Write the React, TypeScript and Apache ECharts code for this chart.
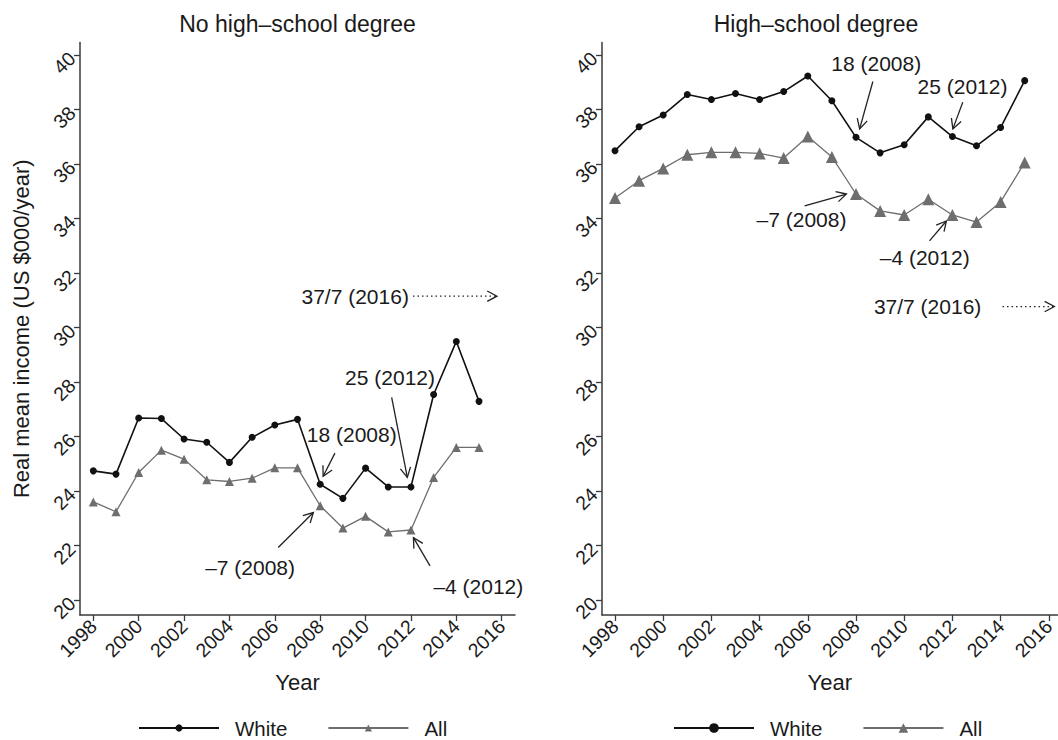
import React, { useEffect, useRef } from "react";
import * as echarts from "echarts";

const years = [1998, 1999, 2000, 2001, 2002, 2003, 2004, 2005, 2006, 2007, 2008, 2009, 2010, 2011, 2012, 2013, 2014, 2015];
const noHsWhite = [24.74, 24.62, 26.68, 26.66, 25.91, 25.79, 25.05, 25.97, 26.42, 26.63, 24.25, 23.73, 24.84, 24.15, 24.15, 27.54, 29.49, 27.29];
const noHsAll = [23.6, 23.24, 24.68, 25.5, 25.17, 24.41, 24.35, 24.47, 24.85, 24.85, 23.46, 22.64, 23.07, 22.5, 22.57, 24.5, 25.6, 25.6];
const hsWhite = [36.49, 37.37, 37.8, 38.55, 38.37, 38.59, 38.37, 38.66, 39.23, 38.32, 36.98, 36.41, 36.71, 37.73, 37.01, 36.67, 37.34, 39.06];
const hsAll = [34.75, 35.39, 35.84, 36.34, 36.43, 36.43, 36.39, 36.22, 37.01, 36.26, 34.9, 34.28, 34.13, 34.71, 34.13, 33.87, 34.61, 36.06];
const xTicks = [1998, 2000, 2002, 2004, 2006, 2008, 2010, 2012, 2014, 2016];
const yTicks = [20, 22, 24, 26, 28, 30, 32, 34, 36, 38, 40];
const panelTitles = ["No high–school degree", "High–school degree"];
const seriesNames = ["White", "All"];

type Note = { text: string; at: number[]; align: string; from: number[]; to: number[]; dotted?: boolean };

const noHsNotes: Note[] = [
  { text: "37/7 (2016)", at: [2011.91, 31.15], align: "right", from: [2012.09, 31.15], to: [2015.79, 31.15], dotted: true },
  { text: "25 (2012)", at: [2011.08, 28.18], align: "center", from: [2011.15, 27.44], to: [2011.84, 24.5] },
  { text: "18 (2008)", at: [2009.39, 26.09], align: "center", from: [2008.65, 25.39], to: [2008.13, 24.54] },
  { text: "–7 (2008)", at: [2004.91, 21.19], align: "center", from: [2006.15, 21.93], to: [2007.7, 23.21] },
  { text: "–4 (2012)", at: [2014.97, 20.51], align: "center", from: [2012.84, 21.25], to: [2012.11, 22.29] },
];
const hsNotes: Note[] = [
  { text: "18 (2008)", at: [2008.84, 39.68], align: "center", from: [2008.7, 39.03], to: [2008.15, 37.29] },
  { text: "25 (2012)", at: [2012.42, 38.85], align: "center", from: [2012.43, 38.27], to: [2012.02, 37.29] },
  { text: "–7 (2008)", at: [2005.74, 33.97], align: "center", from: [2005.87, 34.46], to: [2007.6, 34.9] },
  { text: "–4 (2012)", at: [2010.85, 32.56], align: "center", from: [2011.05, 33.18], to: [2011.75, 33.91] },
  { text: "37/7 (2016)", at: [2013.2, 30.77], align: "right", from: [2014.08, 30.77], to: [2016.23, 30.77], dotted: true },
];

const FONT = "'Liberation Sans', Arial, Helvetica, sans-serif";
const TXT = "#1a1a1a";
const AX = "#3a3a3a";
const WHITE_C = "#111111";
const ALL_C = "#6e6e6e";

function makeAxisX(gridIndex: number, min: number, max: number) {
  return {
    type: "value",
    gridIndex,
    min,
    max,
    name: "Year",
    nameLocation: "middle",
    nameGap: 56,
    nameTextStyle: { fontFamily: FONT, fontSize: 22, color: TXT },
    axisLine: { show: true, onZero: false, lineStyle: { color: AX, width: 1.5 } },
    axisTick: { show: true, customValues: xTicks, length: 6, lineStyle: { color: AX, width: 1.3 } },
    axisLabel: {
      customValues: xTicks,
      rotate: 45,
      margin: 8,
      fontFamily: FONT,
      fontSize: 19.5,
      color: TXT,
      formatter: (v: number) => String(v),
    },
    splitLine: { show: false },
  };
}

function makeAxisY(gridIndex: number, withName: boolean) {
  return {
    type: "value",
    gridIndex,
    min: 19.45,
    max: 40.46,
    name: withName ? "Real mean income (US $000/year)" : "",
    nameLocation: "middle",
    nameGap: 48,
    nameTextStyle: { fontFamily: FONT, fontSize: 22, color: TXT },
    axisLine: { show: true, onZero: false, lineStyle: { color: AX, width: 1.5 } },
    axisTick: { show: true, customValues: yTicks, length: 6, lineStyle: { color: AX, width: 1.3 } },
    axisLabel: {
      customValues: yTicks,
      rotate: 45,
      margin: 8,
      fontFamily: FONT,
      fontSize: 19.5,
      color: TXT,
      formatter: (v: number) => String(v),
    },
    splitLine: { show: false },
  };
}

function lineSeries(name: string, idx: number, vals: number[], isWhite: boolean, triSize: number) {
  const c = isWhite ? WHITE_C : ALL_C;
  return {
    type: "line",
    name,
    xAxisIndex: idx,
    yAxisIndex: idx,
    data: years.map((y, i) => [y, vals[i]]),
    symbol: isWhite ? "circle" : "triangle",
    symbolSize: isWhite ? 7 : triSize,
    showSymbol: true,
    itemStyle: { color: c },
    lineStyle: { color: c, width: isWhite ? 1.6 : 1.3 },
    emphasis: { disabled: true },
  };
}

export default function App() {
  const ref = useRef<HTMLDivElement>(null);
  useEffect(() => {
    if (!ref.current) return;
    const chart = echarts.init(ref.current, null, { renderer: "svg" });
    const legendCommon = {
      orient: "horizontal",
      itemGap: 40,
      itemWidth: 80,
      selectedMode: false,
      data: seriesNames,
      textStyle: { fontFamily: FONT, fontSize: 20.5, lineHeight: 22, color: TXT, padding: [0, 0, 0, 11] },
    };
    chart.setOption({
      animation: false,
      backgroundColor: "#ffffff",
      grid: [
        { left: 80, top: 42.5, width: 435, height: 572.5 },
        { left: 602, top: 42.5, width: 456, height: 572.5 },
      ],
      xAxis: [makeAxisX(0, 1997.414, 2016.586), makeAxisX(1, 1997.461, 2016.359)],
      yAxis: [makeAxisY(0, true), makeAxisY(1, false)],
      legend: [
        { ...legendCommon, left: 138, top: 717, padding: 0, itemHeight: 9 },
        { ...legendCommon, left: 673, top: 717, padding: 0, itemHeight: 12 },
      ],
      series: [
        lineSeries(seriesNames[0], 0, noHsWhite, true, 9),
        lineSeries(seriesNames[1], 0, noHsAll, false, 9),
        lineSeries(seriesNames[0], 1, hsWhite, true, 12),
        lineSeries(seriesNames[1], 1, hsAll, false, 12),
      ],
    });

    const elements: any[] = [];
    const titleX = [297.5, 816];
    panelTitles.forEach((t, i) => {
      elements.push({
        type: "text",
        x: titleX[i],
        y: 24,
        style: { text: t, fontFamily: FONT, fontSize: 23, fill: TXT, align: "center", verticalAlign: "middle" },
      });
    });
    const addNotes = (notes: Note[], gi: number) => {
      notes.forEach((n) => {
        const p = chart.convertToPixel({ gridIndex: gi }, n.at) as number[];
        elements.push({
          type: "text",
          x: p[0],
          y: p[1],
          style: { text: n.text, fontFamily: FONT, fontSize: 21, fill: TXT, align: n.align, verticalAlign: "middle" },
        });
        const a = chart.convertToPixel({ gridIndex: gi }, n.from) as number[];
        const b = chart.convertToPixel({ gridIndex: gi }, n.to) as number[];
        elements.push({
          type: "line",
          shape: { x1: a[0], y1: a[1], x2: b[0], y2: b[1] },
          style: { stroke: "#222", lineWidth: 1.3, lineDash: n.dotted ? [1.5, 3] : null },
        });
        const ang = Math.atan2(b[1] - a[1], b[0] - a[0]);
        const L = 11;
        const h = (28 * Math.PI) / 180;
        const p1 = [b[0] - L * Math.cos(ang - h), b[1] - L * Math.sin(ang - h)];
        const p2 = [b[0] - L * Math.cos(ang + h), b[1] - L * Math.sin(ang + h)];
        elements.push({
          type: "polyline",
          shape: { points: [p1, b, p2] },
          style: { stroke: "#222", lineWidth: 1.3, fill: null },
        });
      });
    };
    addNotes(noHsNotes, 0);
    addNotes(hsNotes, 1);
    chart.setOption({ graphic: elements });

    return () => chart.dispose();
  }, []);
  return <div ref={ref} style={{ position: "fixed", left: 0, top: 0, width: 1058, height: 740, background: "#fff" }} />;
}
